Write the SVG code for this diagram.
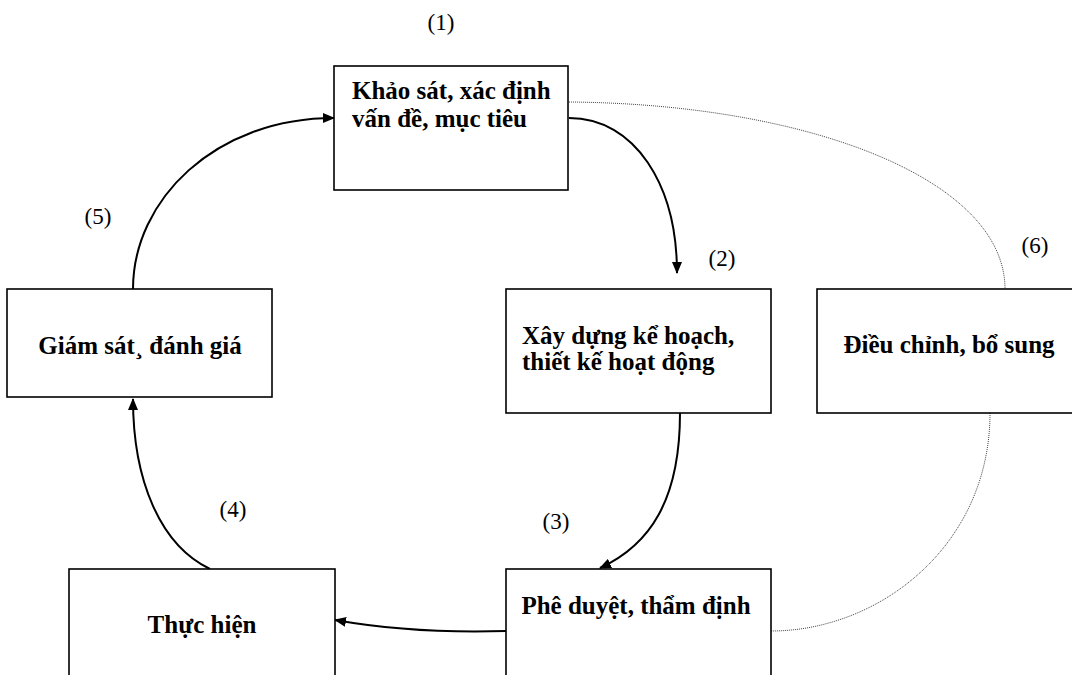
<svg xmlns="http://www.w3.org/2000/svg" width="1072" height="675" viewBox="0 0 1072 675">
<style>
.box{fill:#fff;stroke:#000;stroke-width:1.6}
.c{fill:none;stroke:#000;stroke-width:2}
.d{fill:none;stroke:#444;stroke-width:1;stroke-dasharray:1 1}
</style>
<defs>
<marker id="ah" markerWidth="12" markerHeight="10" refX="11" refY="5" orient="auto" markerUnits="userSpaceOnUse">
<path d="M0,0 L12,5 L0,10 Z" fill="#000"/>
</marker>
</defs>
<rect width="1072" height="675" fill="#fff"/>
<g id="connectors">
<path class="d" d="M569,102 C810,104 1005,180 1005,289"/>
<path class="d" d="M990,413 C990,545 880,631 771,631"/>
<path class="c" d="M569,118 C635,118 677,185 677,273" marker-end="url(#ah)"/>
<path class="c" d="M680,413 C680,500 650,545 600,568" marker-end="url(#ah)"/>
<path class="c" d="M506,631 C440,633 380,628 335,620" marker-end="url(#ah)"/>
<path class="c" d="M210,569 C160,545 133,480 133,399" marker-end="url(#ah)"/>
<path class="c" d="M133,289 C133,200 215,118 334,118" marker-end="url(#ah)"/>
</g>
<g font-family="Liberation Serif, Times New Roman, serif" font-weight="bold" font-size="25" fill="#000">
<g id="n1">
<rect class="box" x="334" y="66" width="234" height="124"/>
<text x="352" y="99">Khảo sát, xác định</text>
<text x="352" y="127">vấn đề, mục tiêu</text>
</g>
<g id="n2">
<rect class="box" x="506" y="289" width="265" height="124"/>
<text x="522" y="344">Xây dựng kể hoạch,</text>
<text x="522" y="370">thiết kế hoạt động</text>
</g>
<g id="n3">
<rect class="box" x="506" y="569" width="265" height="120"/>
<text x="636" y="614" text-anchor="middle">Phê duyệt, thẩm định</text>
</g>
<g id="n4">
<rect class="box" x="69" y="569" width="266" height="120"/>
<text x="202" y="633" text-anchor="middle">Thực hiện</text>
</g>
<g id="n5">
<rect class="box" x="7" y="289" width="265" height="108"/>
<text x="140" y="354" text-anchor="middle">Giám sát¸ đánh giá</text>
</g>
<g id="n6">
<rect class="box" x="817" y="289" width="260" height="124"/>
<text x="949" y="353" text-anchor="middle">Điều chỉnh, bổ sung</text>
</g>
</g>
<g id="labels" font-family="Liberation Serif, Times New Roman, serif" font-size="23" fill="#000" text-anchor="middle">
<text x="441" y="30">(1)</text>
<text x="722" y="266">(2)</text>
<text x="556" y="529">(3)</text>
<text x="233" y="517">(4)</text>
<text x="98" y="224">(5)</text>
<text x="1035" y="253">(6)</text>
</g>
</svg>
